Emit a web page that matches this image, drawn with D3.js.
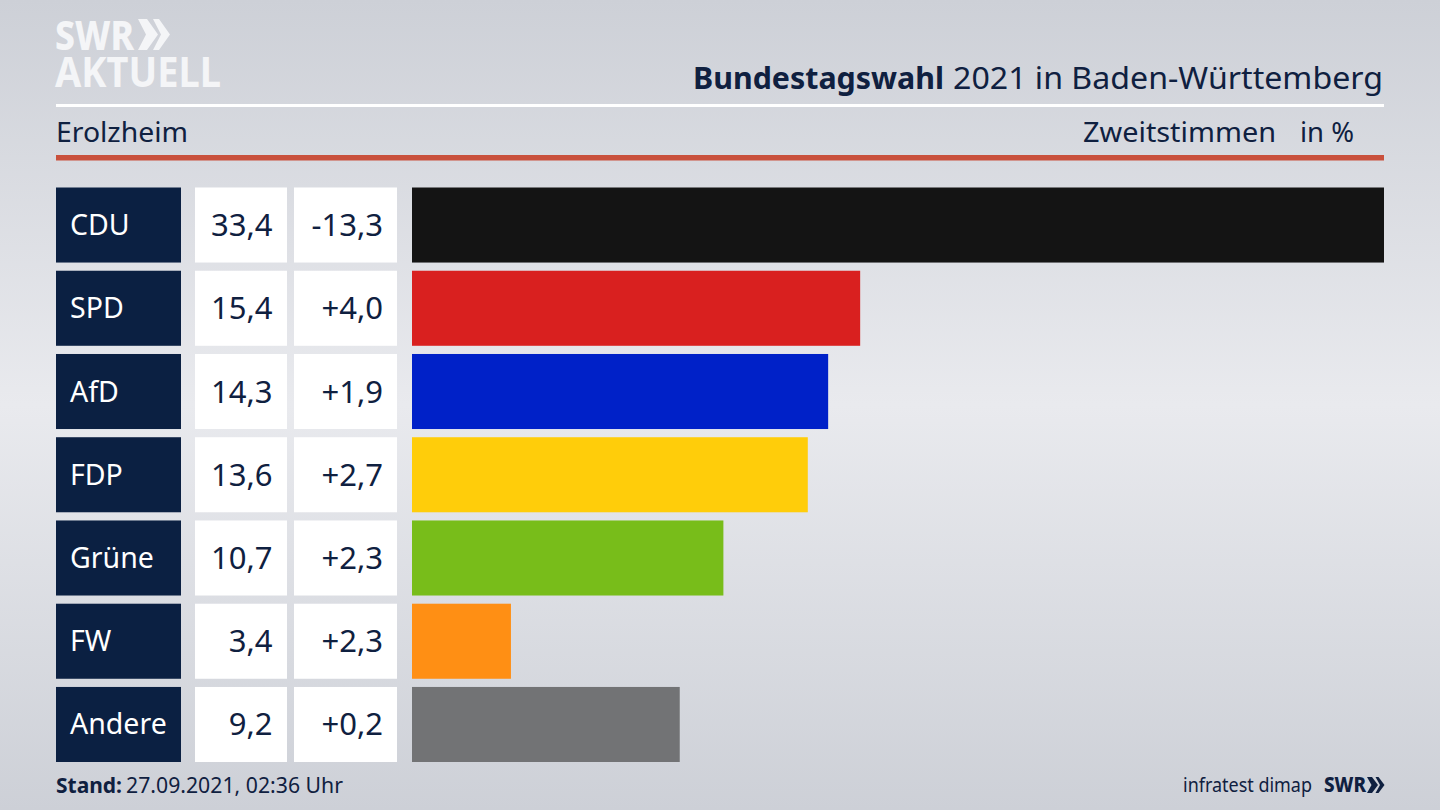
<!DOCTYPE html>
<html>
<head>
<meta charset="utf-8">
<script src="https://cdn.jsdelivr.net/npm/d3@7"></script>
<style>
html, body { margin: 0; padding: 0; background: #d0d3da; }
svg { display: block; }
text { font-family: "Noto Sans", sans-serif; }
</style>
</head>
<body>
<div id="chart"></div>
<script>
var width = 1440;
var height = 810;

var parties = ['CDU', 'SPD', 'AfD', 'FDP', 'Grüne', 'FW', 'Andere'];
var shares = [33.4, 15.4, 14.3, 13.6, 10.7, 3.4, 9.2];
var changes = [-13.3, 4.0, 1.9, 2.7, 2.3, 2.3, 0.2];
var partyColors = ['#141414', '#d9201f', '#0021c8', '#ffcd0a', '#78bd1a', '#ff8f14', '#727375'];

var navy = '#0b2042';
var textDark = '#0f2040';
var comma = d3.format('.1f');

// d3.format gives a unicode minus, the chart has a plain hyphen
function de(v) { return comma(v).replace('.', ',').replace('\u2212', '-'); }
function signed(v) { return (v > 0 ? '+' : '') + de(v); }

var svg = d3.select('#chart').append('svg')
    .attr('width', width)
    .attr('height', height);

var grad = svg.append('defs').append('linearGradient')
    .attr('id', 'bg')
    .attr('x1', 0).attr('y1', 0).attr('x2', 0).attr('y2', 1);
grad.append('stop').attr('offset', '0%').attr('stop-color', '#cdd0d7');
grad.append('stop').attr('offset', '50%').attr('stop-color', '#e9eaee');
grad.append('stop').attr('offset', '100%').attr('stop-color', '#cdd0d7');

svg.append('rect')
    .attr('width', width)
    .attr('height', height)
    .attr('fill', 'url(#bg)');

function print(str, x, y, size, color, opts) {
  opts = opts || {};
  var t = svg.append('text')
      .attr('x', x)
      .attr('y', y)
      .attr('fill', color)
      .style('font-size', size + 'px')
      .style('font-weight', opts.weight || 400)
      .style('text-anchor', opts.anchor || 'start')
      .text(str);
  if (opts.len) {
    t.attr('textLength', opts.len).attr('lengthAdjust', 'spacingAndGlyphs');
  }
  return t;
}

// logo
print('SWR', 55, 50, 41, '#f4f5f7', { weight: 800, len: 79 });
print('AKTUELL', 55, 87, 41, '#f4f5f7', { weight: 700, len: 166 });
svg.append('path')
    .attr('fill', '#f4f5f7')
    .attr('d', 'M138,19h9l11,15.5l-11,15.5h-9l8,-15.5z M153,19h6l11,15.5l-11,15.5h-6l8,-15.5z');

// header
print('Bundestagswahl', 693, 89, 31, textDark, { weight: 700, len: 251 });
print('2021 in Baden-Württemberg', 953, 89, 31, textDark, { len: 430 });
svg.append('rect').attr('x', 56).attr('y', 104).attr('width', 1328).attr('height', 3).attr('fill', '#ffffff');

print('Erolzheim', 56, 142, 28, textDark, { len: 132 });
print('Zweitstimmen', 1083, 142, 28, textDark, { len: 193 });
print('in %', 1300, 142, 28, textDark, { len: 54 });
svg.append('rect').attr('x', 56).attr('y', 155).attr('width', 1328).attr('height', 5.5).attr('fill', '#c9503c');

// rows
var x = d3.scaleLinear()
    .domain([0, d3.max(shares)])
    .range([412, 1384]);

var y = d3.scaleBand()
    .domain(parties)
    .range([187.5, 762])
    .paddingInner(0.0985);

var rows = svg.selectAll('g.row')
    .data(parties)
    .enter().append('g')
    .attr('class', 'row')
    .attr('transform', function (d) { return 'translate(0,' + y(d) + ')'; });

rows.append('rect')
    .attr('x', 56).attr('width', 125)
    .attr('height', y.bandwidth())
    .attr('fill', navy);

rows.append('rect')
    .attr('x', 195).attr('width', 92)
    .attr('height', y.bandwidth())
    .attr('fill', '#ffffff');

rows.append('rect')
    .attr('x', 294).attr('width', 103)
    .attr('height', y.bandwidth())
    .attr('fill', '#ffffff');

rows.append('rect')
    .attr('x', x(0))
    .attr('width', function (d, i) { return x(shares[i]) - x(0); })
    .attr('height', y.bandwidth())
    .attr('fill', function (d, i) { return partyColors[i]; });

function cell(xpos, anchor, color, size, dy, label) {
  rows.append('text')
      .attr('x', xpos)
      .attr('y', y.bandwidth() / 2 + dy)
      .attr('fill', color)
      .style('font-size', size + 'px')
      .style('text-anchor', anchor)
      .text(label);
}

cell(70, 'start', '#ffffff', 28.5, 10, function (d) { return d; });
cell(272.5, 'end', textDark, 31, 11, function (d, i) { return de(shares[i]); });
cell(383, 'end', textDark, 31, 11, function (d, i) { return signed(changes[i]); });

// footer
print('Stand:', 56, 793, 22, textDark, { weight: 700, len: 66 });
print('27.09.2021, 02:36 Uhr', 126, 793, 22, textDark, { len: 217 });
print('infratest dimap', 1183, 792, 20, textDark, { len: 129 });
print('SWR', 1324, 792, 21, textDark, { weight: 800, len: 42 });
svg.append('path')
    .attr('fill', textDark)
    .attr('d', 'M1367,777h5l6,8l-6,8h-5l4.5,-8z M1375.5,777h3l6,8l-6,8h-3l4.5,-8z');
</script>
</body>
</html>
